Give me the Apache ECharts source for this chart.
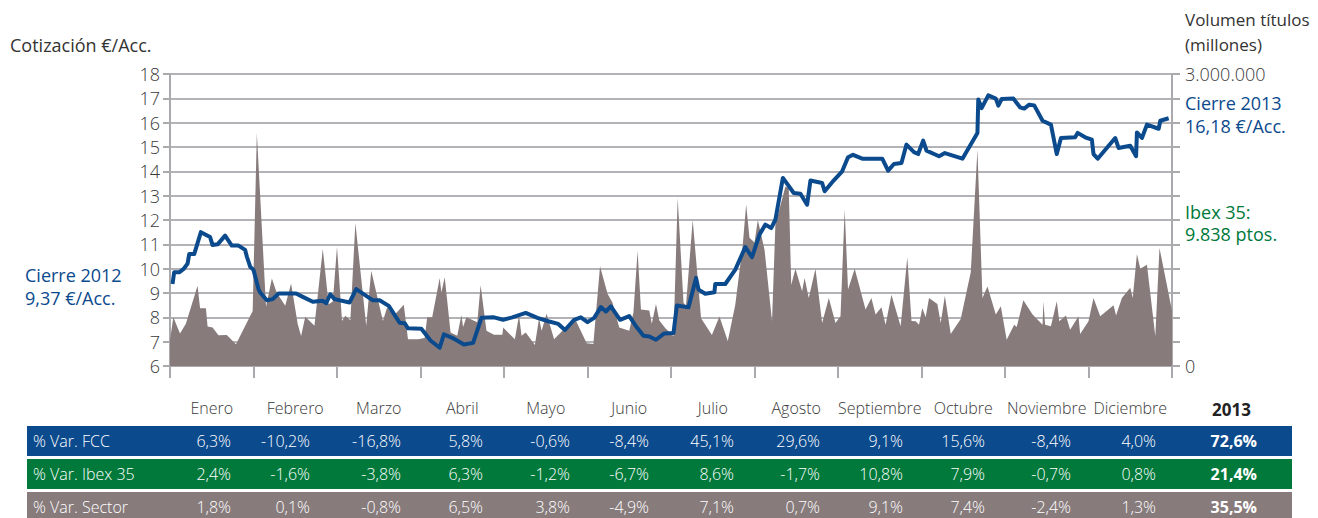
<!DOCTYPE html>
<html>
<head>
<meta charset="utf-8">
<script src="https://cdn.jsdelivr.net/npm/echarts@6/dist/echarts.min.js"></script>
<style>
  body { margin: 0; background: #fff; font-family: "Open Sans", sans-serif; }
  #main { position: absolute; left: 0; top: 0; width: 1318px; height: 518px; }
  .txt { position: absolute; white-space: nowrap; font-size: 17px; line-height: 22px; }
  .row { position: absolute; left: 27px; width: 1265px; height: 30px; color: #fff; font-size: 16px; line-height: 30px; font-weight: 300; }
  .row span { position: absolute; top: 0; white-space: nowrap; }
</style>
</head>
<body>
<div id="main"></div>
<div id="labels"></div>
<script>
// meses del eje / columnas de la tabla
var months = ['Enero', 'Febrero', 'Marzo', 'Abril', 'Mayo', 'Junio', 'Julio',
  'Agosto', 'Septiembre', 'Octubre', 'Noviembre', 'Diciembre'];

// cotización FCC 2013: [posición en meses desde 1 ene, €/acc]
var priceData = [
  [0.03, 9.37], [0.05, 9.85], [0.11, 9.85], [0.16, 9.98], [0.21, 10.2], [0.23, 10.6], [0.29, 10.6],
  [0.37, 11.5], [0.48, 11.3], [0.51, 10.97], [0.57, 11.0], [0.66, 11.36], [0.74, 10.95], [0.82, 10.95],
  [0.9, 10.77], [0.92, 10.5], [0.96, 10.08], [1.0, 9.95], [1.06, 9.16], [1.08, 9.02], [1.16, 8.7],
  [1.23, 8.75], [1.3, 8.98], [1.51, 8.98], [1.59, 8.84], [1.71, 8.64], [1.83, 8.68], [1.87, 8.58],
  [1.92, 8.95], [1.97, 8.75], [2.15, 8.61], [2.23, 9.16], [2.43, 8.7], [2.51, 8.7], [2.62, 8.47],
  [2.71, 7.99], [2.75, 7.78], [2.81, 7.76], [2.85, 7.55], [3.01, 7.53], [3.12, 7.05], [3.23, 6.75],
  [3.28, 7.3], [3.38, 7.16], [3.52, 6.88], [3.63, 6.95], [3.73, 7.98], [3.88, 8.0], [3.99, 7.9],
  [4.1, 8.0], [4.26, 8.18], [4.4, 7.98], [4.53, 7.84], [4.65, 7.73], [4.73, 7.48], [4.84, 7.9],
  [4.92, 8.0], [5.0, 7.8], [5.08, 7.98], [5.16, 8.42], [5.22, 8.24], [5.28, 8.45], [5.39, 7.9],
  [5.5, 8.05], [5.59, 7.59], [5.67, 7.24], [5.74, 7.21], [5.82, 7.08], [5.92, 7.34], [6.03, 7.36],
  [6.07, 8.49], [6.21, 8.41], [6.3, 9.62], [6.33, 9.14], [6.41, 8.97], [6.52, 9.03], [6.53, 9.37],
  [6.65, 9.37], [6.77, 9.96], [6.89, 10.89], [6.97, 10.47], [7.06, 11.4], [7.13, 11.81], [7.2, 11.67],
  [7.25, 12.01], [7.34, 13.73], [7.47, 13.11], [7.55, 13.08], [7.63, 12.63], [7.67, 13.62], [7.81, 13.52],
  [7.84, 13.18], [7.95, 13.63], [8.05, 14.0], [8.12, 14.58], [8.18, 14.68], [8.29, 14.52], [8.53, 14.52],
  [8.6, 14.03], [8.67, 14.3], [8.76, 14.34], [8.82, 15.1], [8.91, 14.79], [8.96, 14.71], [9.02, 15.26],
  [9.06, 14.85], [9.21, 14.62], [9.28, 14.75], [9.49, 14.52], [9.67, 15.58], [9.68, 16.95], [9.72, 16.6],
  [9.8, 17.12], [9.89, 16.99], [9.92, 16.7], [9.96, 16.97], [10.1, 16.99], [10.18, 16.63], [10.23, 16.58],
  [10.29, 16.74], [10.35, 16.71], [10.45, 16.08], [10.55, 15.92], [10.62, 14.71], [10.67, 15.37],
  [10.84, 15.4], [10.87, 15.58], [10.96, 15.4], [11.04, 15.3], [11.06, 14.71], [11.11, 14.52],
  [11.32, 15.37], [11.36, 14.96], [11.5, 15.05], [11.57, 14.62], [11.58, 15.6], [11.64, 15.37],
  [11.7, 15.92], [11.84, 15.75], [11.86, 16.08], [11.96, 16.18]
];

// volumen de títulos: [posición en meses, títulos]
var volumeData = [
  [0.0, 268000], [0.04, 500000], [0.12, 333000], [0.19, 435000], [0.33, 825000], [0.36, 593000],
  [0.43, 593000], [0.45, 405000], [0.51, 395000], [0.58, 315000], [0.68, 318000], [0.79, 223000],
  [0.99, 565000], [1.04, 2393000], [1.15, 610000], [1.22, 900000], [1.27, 773000], [1.3, 725000],
  [1.38, 618000], [1.45, 848000], [1.53, 428000], [1.57, 308000], [1.62, 505000], [1.73, 413000],
  [1.83, 1203000], [1.9, 635000], [1.95, 663000], [2.0, 1225000], [2.06, 463000], [2.1, 515000],
  [2.16, 470000], [2.22, 1468000], [2.35, 413000], [2.41, 978000], [2.55, 463000], [2.6, 600000],
  [2.68, 515000], [2.8, 628000], [2.85, 275000], [2.97, 275000], [3.05, 288000], [3.08, 500000],
  [3.14, 500000], [3.23, 905000], [3.25, 755000], [3.29, 913000], [3.36, 345000], [3.44, 310000],
  [3.49, 525000], [3.51, 400000], [3.55, 500000], [3.68, 450000], [3.72, 830000], [3.79, 363000],
  [3.88, 320000], [3.98, 320000], [3.99, 395000], [4.13, 275000], [4.18, 518000], [4.21, 310000],
  [4.26, 345000], [4.37, 215000], [4.42, 490000], [4.45, 363000], [4.51, 538000], [4.6, 275000],
  [4.7, 363000], [4.86, 468000], [4.99, 233000], [5.07, 225000], [5.15, 1025000], [5.24, 743000],
  [5.3, 650000], [5.38, 395000], [5.5, 363000], [5.55, 550000], [5.6, 1183000], [5.64, 580000],
  [5.74, 570000], [5.77, 433000], [5.82, 638000], [5.86, 468000], [5.93, 390000], [6.03, 305000],
  [6.08, 1725000], [6.15, 648000], [6.18, 625000], [6.26, 1500000], [6.36, 490000], [6.49, 318000],
  [6.58, 508000], [6.68, 258000], [6.77, 628000], [6.86, 1250000], [6.9, 1660000], [6.94, 1318000],
  [7.0, 1268000], [7.04, 1500000], [7.12, 1195000], [7.21, 460000], [7.25, 1450000], [7.37, 1845000],
  [7.41, 1825000], [7.44, 833000], [7.49, 1000000], [7.57, 768000], [7.6, 905000], [7.65, 698000],
  [7.73, 1000000], [7.81, 443000], [7.89, 698000], [7.97, 443000], [8.03, 510000], [8.08, 1608000],
  [8.12, 785000], [8.2, 1000000], [8.33, 580000], [8.4, 698000], [8.45, 528000], [8.52, 603000],
  [8.57, 425000], [8.64, 733000], [8.75, 408000], [8.83, 1118000], [8.88, 463000], [8.93, 460000],
  [8.97, 425000], [9.01, 595000], [9.05, 500000], [9.09, 698000], [9.19, 638000], [9.23, 443000],
  [9.28, 723000], [9.35, 330000], [9.47, 483000], [9.59, 963000], [9.67, 2225000], [9.73, 698000],
  [9.79, 818000], [9.89, 528000], [9.95, 613000], [10.02, 270000], [10.11, 425000], [10.14, 400000],
  [10.22, 675000], [10.33, 528000], [10.45, 425000], [10.46, 665000], [10.48, 425000], [10.55, 408000],
  [10.62, 665000], [10.65, 460000], [10.73, 520000], [10.78, 373000], [10.88, 510000], [10.9, 330000],
  [11.0, 460000], [11.06, 698000], [11.14, 510000], [11.3, 623000], [11.33, 520000], [11.4, 698000],
  [11.5, 803000], [11.53, 698000], [11.58, 1150000], [11.62, 998000], [11.7, 1040000], [11.8, 305000],
  [11.85, 1213000], [12.0, 568000]
];

// tabla de variaciones mensuales
var varFCC    = ['6,3%', '-10,2%', '-16,8%', '5,8%', '-0,6%', '-8,4%', '45,1%', '29,6%', '9,1%', '15,6%', '-8,4%', '4,0%'];
var varIbex   = ['2,4%', '-1,6%', '-3,8%', '6,3%', '-1,2%', '-6,7%', '8,6%', '-1,7%', '10,8%', '7,9%', '-0,7%', '0,8%'];
var varSector = ['1,8%', '0,1%', '-0,8%', '6,5%', '3,8%', '-4,9%', '7,1%', '0,7%', '9,1%', '7,4%', '-2,4%', '1,3%'];
var totals = { fcc: '72,6%', ibex: '21,4%', sector: '35,5%' };

var BLUE = '#0b4a8d', GREEN = '#00793b', GREY = '#877b7c';

var chart = echarts.init(document.getElementById('main'), null, { renderer: 'svg' });
chart.setOption({
  animation: false,
  grid: { left: 170, right: 146, top: 74, bottom: 152 },
  xAxis: [
    {
      type: 'category',
      data: months,
      boundaryGap: true,
      axisLine: { lineStyle: { color: '#a9a9ae', width: 2 } },
      axisTick: { show: true, length: 12, interval: 0, lineStyle: { color: '#a9a9ae', width: 2 } },
      axisLabel: { interval: 0, margin: 34, fontSize: 16, color: '#3a3a3a', fontFamily: 'Open Sans', fontWeight: 300 },
      splitLine: { show: false }
    },
    { type: 'value', min: 0, max: 12, show: false }
  ],
  yAxis: [
    {
      type: 'value', min: 6, max: 18, interval: 1,
      axisLine: { show: true, lineStyle: { color: '#a9a9ae', width: 2 } },
      axisTick: { show: true, length: 7, lineStyle: { color: '#a9a9ae', width: 2 } },
      axisLabel: { fontSize: 18, color: '#3a3a3a', margin: 10, fontFamily: 'Open Sans', fontWeight: 300 },
      splitLine: { lineStyle: { color: '#b3b3b7', width: 2 } }
    },
    {
      type: 'value', min: 0, max: 3000000, interval: 250000, position: 'right',
      axisLine: { show: true, lineStyle: { color: '#a9a9ae', width: 2 } },
      axisTick: { show: true, length: 8, lineStyle: { color: '#a9a9ae', width: 2 } },
      axisLabel: {
        fontSize: 18, color: '#3a3a3a', margin: 13, fontFamily: 'Open Sans', fontWeight: 300,
        formatter: function (v) {
          if (v === 0) return '0';
          if (v === 3000000) return '3.000.000';
          return '';
        }
      },
      splitLine: { show: false }
    }
  ],
  series: [
    {
      name: 'Volumen',
      type: 'line',
      xAxisIndex: 1, yAxisIndex: 1,
      data: volumeData,
      symbol: 'none',
      lineStyle: { width: 0 },
      areaStyle: { color: GREY, opacity: 1 },
      z: 1
    },
    {
      name: 'Cotización',
      type: 'line',
      xAxisIndex: 1, yAxisIndex: 0,
      data: priceData,
      symbol: 'none',
      lineStyle: { color: BLUE, width: 4, join: 'round' },
      z: 3
    }
  ]
});

// textos sueltos y tabla
var box = document.getElementById('labels');
function addText(txt, left, top, color, extra) {
  var d = document.createElement('div');
  d.className = 'txt';
  d.textContent = txt;
  d.style.left = left + 'px';
  d.style.top = top + 'px';
  d.style.color = color;
  if (extra) d.style.cssText += extra;
  box.appendChild(d);
}
addText('Cotización €/Acc.', 10, 34, '#333', 'font-size:18px;');
addText('Volumen títulos', 1185, 9, '#333');
addText('(millones)', 1185, 34, '#333');
addText('Cierre 2013', 1185, 92, BLUE, 'font-size:18px;');
addText('16,18 €/Acc.', 1185, 115, BLUE, 'font-size:18px;');
addText('Ibex 35:', 1185, 201, GREEN, 'font-size:18px;');
addText('9.838 ptos.', 1185, 223, GREEN, 'font-size:18px;');
addText('Cierre 2012', 25, 264, BLUE, 'font-size:18px;');
addText('9,37 €/Acc.', 25, 287, BLUE, 'font-size:18px;');
addText('2013', 1212, 399, '#222', 'font-weight:700;');

var colRight = [231, 310, 401, 483, 570, 649, 734, 820, 903, 985, 1071, 1156];
var rows = [
  { label: '% Var. FCC', vals: varFCC, total: totals.fcc, color: BLUE, top: 426 },
  { label: '% Var. Ibex 35', vals: varIbex, total: totals.ibex, color: GREEN, top: 459 },
  { label: '% Var. Sector', vals: varSector, total: totals.sector, color: GREY, top: 492 }
];
rows.forEach(function (r) {
  var row = document.createElement('div');
  row.className = 'row';
  row.style.top = r.top + 'px';
  row.style.background = r.color;
  var lab = document.createElement('span');
  lab.textContent = r.label;
  lab.style.left = '6px';
  row.appendChild(lab);
  r.vals.forEach(function (v, i) {
    var s = document.createElement('span');
    s.textContent = v;
    s.style.right = (1292 - colRight[i]) + 'px';
    row.appendChild(s);
  });
  var t = document.createElement('span');
  t.textContent = r.total;
  t.style.right = (1292 - 1257) + 'px';
  t.style.fontWeight = '700';
  row.appendChild(t);
  box.appendChild(row);
});
</script>
</body>
</html>
